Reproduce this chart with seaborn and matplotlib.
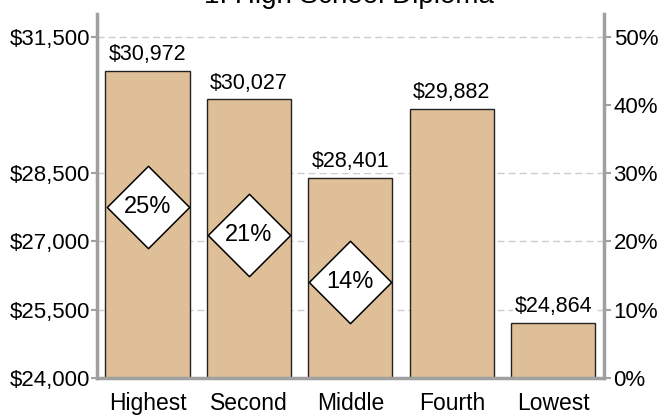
import numpy as np
import pandas as pd
import seaborn as sns
import matplotlib.pyplot as plt

# Data
quintiles = ["Highest", "Second", "Middle", "Fourth", "Lowest"]
bar_height = [30754, 30125, 28402, 29919, 25215]
income_label = ["$30,972", "$30,027", "$28,401", "$29,882", "$24,864"]
share = [25, 21, 14, None, None]
income_ticks = [24000, 25500, 27000, 28500, 31500]
share_ticks = [0, 10, 20, 30, 40, 50]

sns.set_style("white")
plt.rcParams["font.family"] = ["Liberation Sans", "DejaVu Sans"]
plt.rcParams["text.color"] = "black"
plt.rcParams["xtick.labelcolor"] = "black"
plt.rcParams["ytick.labelcolor"] = "black"

df = pd.DataFrame({"quintile": quintiles, "income": bar_height, "share": share})
axis_grey = "#a0a0a0"

fig = plt.figure(figsize=(6.68, 4.19), dpi=100)
ax = fig.add_axes([0.145, 0.098, 0.759, 0.869])

# Bars
sns.barplot(data=df, x="quintile", y="income", color="#debf98", saturation=1,
            edgecolor="#222222", linewidth=1, width=0.83, ax=ax, zorder=2)
ax.bar_label(ax.containers[0], labels=income_label, padding=4, fontsize=15.5,
             color="black", bbox=dict(fc="white", ec="none", pad=1))

ax.set_ylim(24000, 32000)
ax.set_yticks(income_ticks, labels=[f"${v:,}" for v in income_ticks])
ax.yaxis.grid(True, linestyle=(0, (5, 3)), color="#cccccc", linewidth=1)
ax.set_axisbelow(True)
ax.set_xlabel("")
ax.set_ylabel("")

# Share diamonds on the right axis
ax2 = ax.twinx()
sns.scatterplot(data=df.dropna(), x="quintile", y="share", marker="D", s=1760,
                color="white", edgecolor="black", linewidth=1.1, ax=ax2,
                zorder=3, legend=False)
for i, p in enumerate(share):
    if p is not None:
        ax2.text(i, p, f"{p:.0f}%", ha="center", va="center", fontsize=17,
                 color="black", zorder=4)
ax2.set_ylim(0, 53.33)
ax2.set_yticks(share_ticks, labels=[f"{v}%" for v in share_ticks])
ax2.set_ylabel("")
ax2.set_xlabel("")

# x axis: labels at centres, tick marks between categories
ax.set_xlim(-0.5, 4.5)
ax.set_xticks(range(len(quintiles)), labels=quintiles)
ax.set_xticks(np.arange(-0.5, len(quintiles)), minor=True)
ax.tick_params(axis="x", which="major", length=0, pad=10, labelsize=16.5)
ax.tick_params(axis="x", which="minor", length=9, width=1.5, color=axis_grey)
ax.tick_params(axis="y", length=4, width=1.5, color=axis_grey, pad=1, labelsize=16, left=True)
ax2.tick_params(axis="y", length=5, width=1.5, color=axis_grey, pad=2, labelsize=16)

for s in ["left", "bottom"]:
    ax.spines[s].set_color(axis_grey)
    ax.spines[s].set_linewidth(2.5)
ax.spines["top"].set_visible(False)
ax.spines["right"].set_visible(False)
for s in ["left", "bottom", "top"]:
    ax2.spines[s].set_visible(False)
ax2.spines["right"].set_color(axis_grey)
ax2.spines["right"].set_linewidth(2.5)

fig.text(0.523, 1 - 3 / 419, "1. High School Diploma", ha="center", va="baseline", fontsize=20)

fig.savefig("out.png", dpi=100)
